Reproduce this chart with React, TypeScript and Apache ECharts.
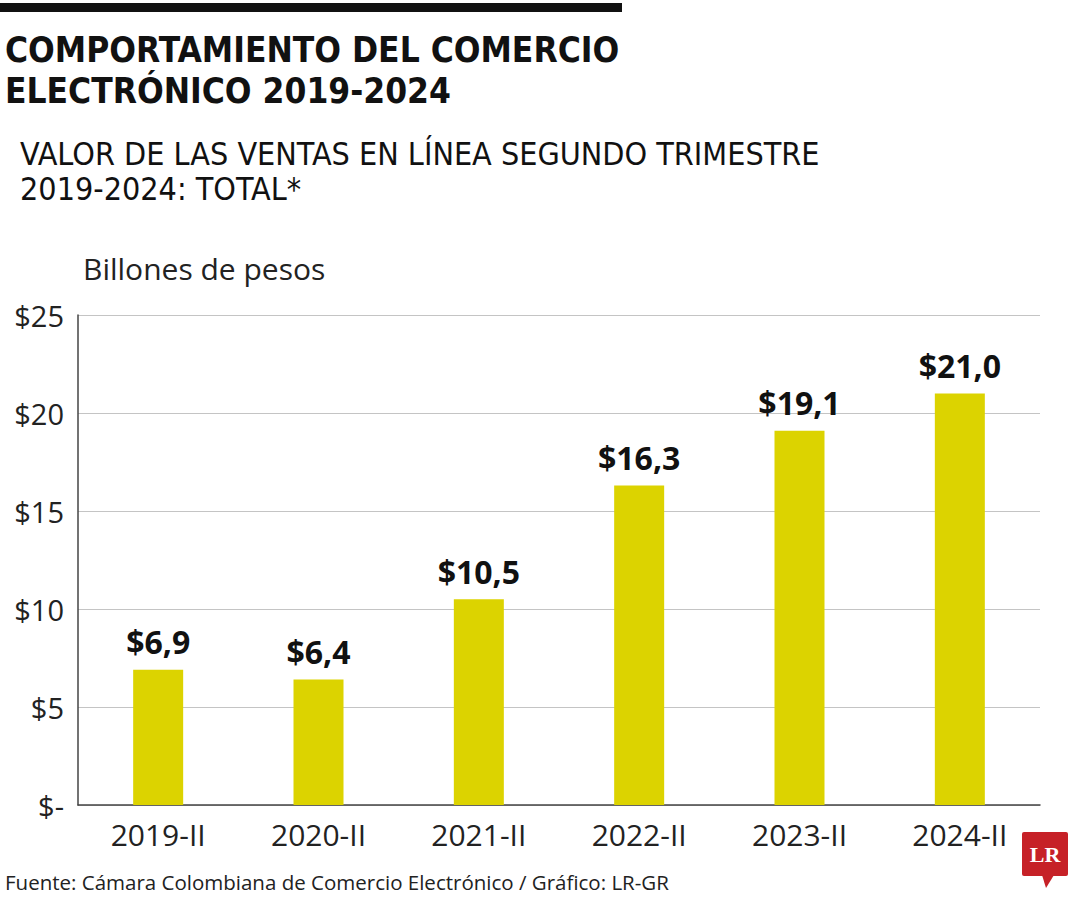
import React, { useEffect, useRef } from "react";
import * as echarts from "echarts";

const categories = ["2019-II", "2020-II", "2021-II", "2022-II", "2023-II", "2024-II"];
const values = [6.9, 6.4, 10.5, 16.3, 19.1, 21.0];
const yTicks = [0, 5, 10, 15, 20, 25];

const titleLines = ["COMPORTAMIENTO DEL COMERCIO", "ELECTRÓNICO 2019-2024"];
const subtitleLines = ["VALOR DE LAS VENTAS EN LÍNEA SEGUNDO TRIMESTRE", "2019-2024: TOTAL*"];
const unitLabel = "Billones de pesos";
const sourceText = "Fuente: Cámara Colombiana de Comercio Electrónico / Gráfico: LR-GR";

const FONT = "'Open Sans', 'Noto Sans', sans-serif";
const COND = "'Liberation Sans Narrow', 'DejaVu Sans Condensed', sans-serif";

export default function App() {
  const ref = useRef<HTMLDivElement>(null);
  useEffect(() => {
    document.body.style.margin = "0";
    const chart = echarts.init(ref.current!, undefined, { renderer: "svg" });
    chart.setOption({
      animation: false,
      backgroundColor: "#ffffff",
      grid: { left: 78, right: 40, top: 315, bottom: 95, containLabel: false },
      xAxis: {
        type: "category",
        data: categories,
        axisLine: { lineStyle: { color: "#444", width: 1.5 } },
        axisTick: { show: false },
        axisLabel: { color: "#222", fontFamily: FONT, fontSize: 30, margin: 14 },
      },
      yAxis: {
        type: "value",
        min: 0,
        max: 25,
        interval: 5,
        axisLine: { show: true, lineStyle: { color: "#444", width: 1.5 } },
        axisTick: { show: false },
        splitLine: { lineStyle: { color: "#c4c4c4", width: 1.2 } },
        axisLabel: {
          color: "#222",
          fontFamily: FONT,
          fontSize: 29,
          margin: 14,
          formatter: (v: number) => (v === 0 ? "$-" : "$" + v),
        },
      },
      series: [
        {
          type: "bar",
          data: values,
          barWidth: 50,
          itemStyle: { color: "#dcd300" },
          label: {
            show: true,
            position: "top",
            distance: 12,
            color: "#111",
            fontFamily: FONT,
            fontWeight: "bold",
            fontSize: 32,
            formatter: (p: any) => "$" + p.value.toFixed(1).replace(".", ","),
          },
        },
      ],
      graphic: [
        { type: "rect", shape: { x: 0, y: 3, width: 622, height: 9 }, style: { fill: "#111" } },
        {
          type: "text",
          x: 5,
          y: 32,
          style: { text: titleLines[0], font: `bold 35px ${COND}`, fill: "#111" },
        },
        {
          type: "text",
          x: 5,
          y: 73,
          style: { text: titleLines[1], font: `bold 35px ${COND}`, fill: "#111" },
        },
        {
          type: "text",
          x: 20,
          y: 138,
          style: { text: subtitleLines[0], font: `32px ${COND}`, fill: "#111" },
        },
        {
          type: "text",
          x: 20,
          y: 173,
          style: { text: subtitleLines[1], font: `32px ${COND}`, fill: "#111" },
        },
        {
          type: "text",
          x: 83,
          y: 253,
          style: { text: unitLabel, font: `30px ${FONT}`, fill: "#222" },
        },
        {
          type: "text",
          x: 5,
          y: 871,
          style: { text: sourceText, font: `20.5px ${FONT}`, fill: "#222" },
        },
        { type: "rect", shape: { x: 1022, y: 832, width: 46, height: 44, r: 2 }, style: { fill: "#c62127" } },
        {
          type: "polygon",
          shape: { points: [[1042, 875], [1054, 875], [1046, 888]] },
          style: { fill: "#c62127" },
        },
        {
          type: "text",
          x: 1045,
          y: 854,
          style: {
            text: "LR",
            font: "bold 22px 'Liberation Serif', 'DejaVu Serif', serif",
            fill: "#fff",
            align: "center",
            verticalAlign: "middle",
          },
        },
      ],
    });
    return () => chart.dispose();
  }, []);
  return <div ref={ref} style={{ width: 1080, height: 900 }} />;
}
